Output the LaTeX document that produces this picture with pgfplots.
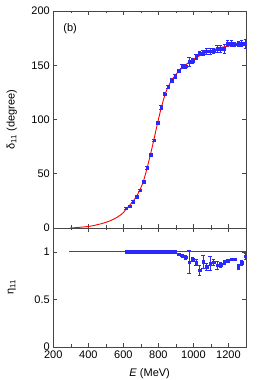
\documentclass[border=0pt]{standalone}
\usepackage{pgfplots}
\usepackage{pgfplotstable}
\pgfplotsset{compat=1.18}
\usepackage{fontspec}
\setmainfont{Liberation Sans}

\pgfplotstableread{
E d err
615 18.2 1.0
635 20.0 1.0
655 24.3 1.0
675 28.9 1.0
695 34.8 1.0
715 42.5 1.0
735 55.7 1.2
755 67.7 1.2
775 80.9 1.2
795 96.9 1.5
815 111.0 2.0
835 123.4 1.5
855 130.2 1.5
875 136.0 1.5
895 139.7 1.5
915 145.0 1.5
935 149.2 2.0
955 149.2 2.0
975 153.0 4.0
995 154.0 2.5
1015 157.8 2.5
1035 161.0 2.0
1055 161.5 2.5
1075 163.0 2.5
1095 162.8 3.0
1115 163.4 2.5
1135 165.0 3.0
1155 165.0 3.5
1175 165.0 4.0
1195 170.0 2.5
1215 170.0 2.5
1235 169.5 2.0
1255 169.8 2.0
1275 170.0 2.5
1295 170.0 4.0
}\deltadata

\pgfplotstableread{
E d
295 0
300 0.05
325 0.3
350 0.65
375 1.0
400 1.4
425 2.1
450 3.0
475 4.0
500 5.2
525 6.7
550 8.6
575 11.0
600 14.2
615 17.2
635 20.8
655 24.5
675 29.3
695 35.3
715 43.5
735 55.0
755 68.0
775 82.0
795 96.5
815 110.0
835 121.5
855 130.0
875 136.0
895 140.5
915 144.3
935 147.5
955 150.3
975 152.8
995 155.0
1015 157.0
1035 158.8
1055 160.4
1075 161.8
1100 163.4
1125 164.8
1150 166.0
1175 167.0
1200 167.8
1225 168.5
1250 169.0
1275 169.4
1300 169.7
}\deltafit

\pgfplotstableread{
E eta
615 1.0
635 1.0
655 1.0
675 1.0
695 1.0
715 1.0
735 1.0
755 1.0
775 1.0
795 1.0
815 1.0
835 1.0
855 1.0
875 1.0
895 1.0
}\etaflat

\pgfplotstableread{
E eta err
915 0.974 0.01
935 0.958 0.01
955 0.942 0.02
975 0.890 0.12
995 0.920 0.02
1015 0.888 0.03
1035 0.806 0.055
1055 0.895 0.07
1075 0.842 0.04
1095 0.878 0.075
1115 0.892 0.03
1135 0.858 0.04
1155 0.862 0.03
1175 0.892 0.02
1195 0.905 0.02
1215 0.922 0.01
1235 0.922 0.01
1255 0.843 0.025
1275 0.886 0.025
1295 0.952 0.03
}\etadata

\definecolor{ptblue}{RGB}{40,40,255}
\definecolor{axgray}{RGB}{70,70,70}

\pgfplotsset{
  common/.style={
    scale only axis,
    width=192.7pt,
    xmin=200, xmax=1300,
    xtick={200,400,...,1200},
    minor x tick num=1,
    tick align=inside,
    major tick length=4pt,
    minor tick length=2.5pt,
    axis line style={axgray, line width=0.6pt},
    major tick style={axgray, line width=0.5pt},
    minor tick style={axgray, line width=0.5pt},
    tick label style={font=\fontsize{11}{13}\selectfont},
    label style={font=\fontsize{11}{13}\selectfont},
    /pgf/number format/assume math mode=true,
    /pgf/number format/1000 sep={},
  },
  datastyle/.style={
    only marks, mark=square*, mark size=1.3pt,
    color=ptblue,
    error bars/y dir=both, error bars/y explicit,
    error bars/error bar style={color=ptblue, line width=0.7pt},
    error bars/error mark options={rotate=90, mark size=1.6pt, color=ptblue, line width=0.7pt},
  },
}

\begin{document}
\begin{tikzpicture}
\path[use as bounding box] (0,0) rectangle (266pt,380pt);

\begin{axis}[common,
  at={(53.3pt,152pt)}, anchor=south west,
  height=217pt,
  ymin=0, ymax=200,
  ytick={0,50,...,200},
  xticklabels={},
  ylabel={δ\textsubscript{11} (degree)},
  ylabel style={at={(axis description cs:-0.215,0.5)}, anchor=center},
]
\addplot[datastyle] table[x=E, y=d, y error=err] {\deltadata};
\addplot[color=red, line width=0.9pt, smooth, no marks] table[x=E, y=d] {\deltafit};
\node[font=\fontsize{11}{13}\selectfont] at (rel axis cs:0.087,0.917) {(b)};
\end{axis}

\begin{axis}[common,
  at={(53.3pt,33pt)}, anchor=south west,
  height=119pt,
  ymin=0, ymax=1.25,
  ytick={0,0.5,1},
  yticklabels={0,0.5,1},
  ylabel={η\textsubscript{11}},
  ylabel style={at={(axis description cs:-0.215,0.5)}, anchor=center},
  xlabel={\textit{E} (MeV)},
  xlabel style={at={(axis description cs:0.5,-0.227)}, anchor=center},
]
\addplot[datastyle] table[x=E, y=eta, y error=err] {\etadata};
\addplot[only marks, mark=square*, mark size=1.3pt, color=ptblue] table[x=E, y=eta] {\etaflat};
\addplot[color=red, line width=1pt, no marks] coordinates {(290,1) (1300,1)};
\end{axis}
\end{tikzpicture}
\end{document}
